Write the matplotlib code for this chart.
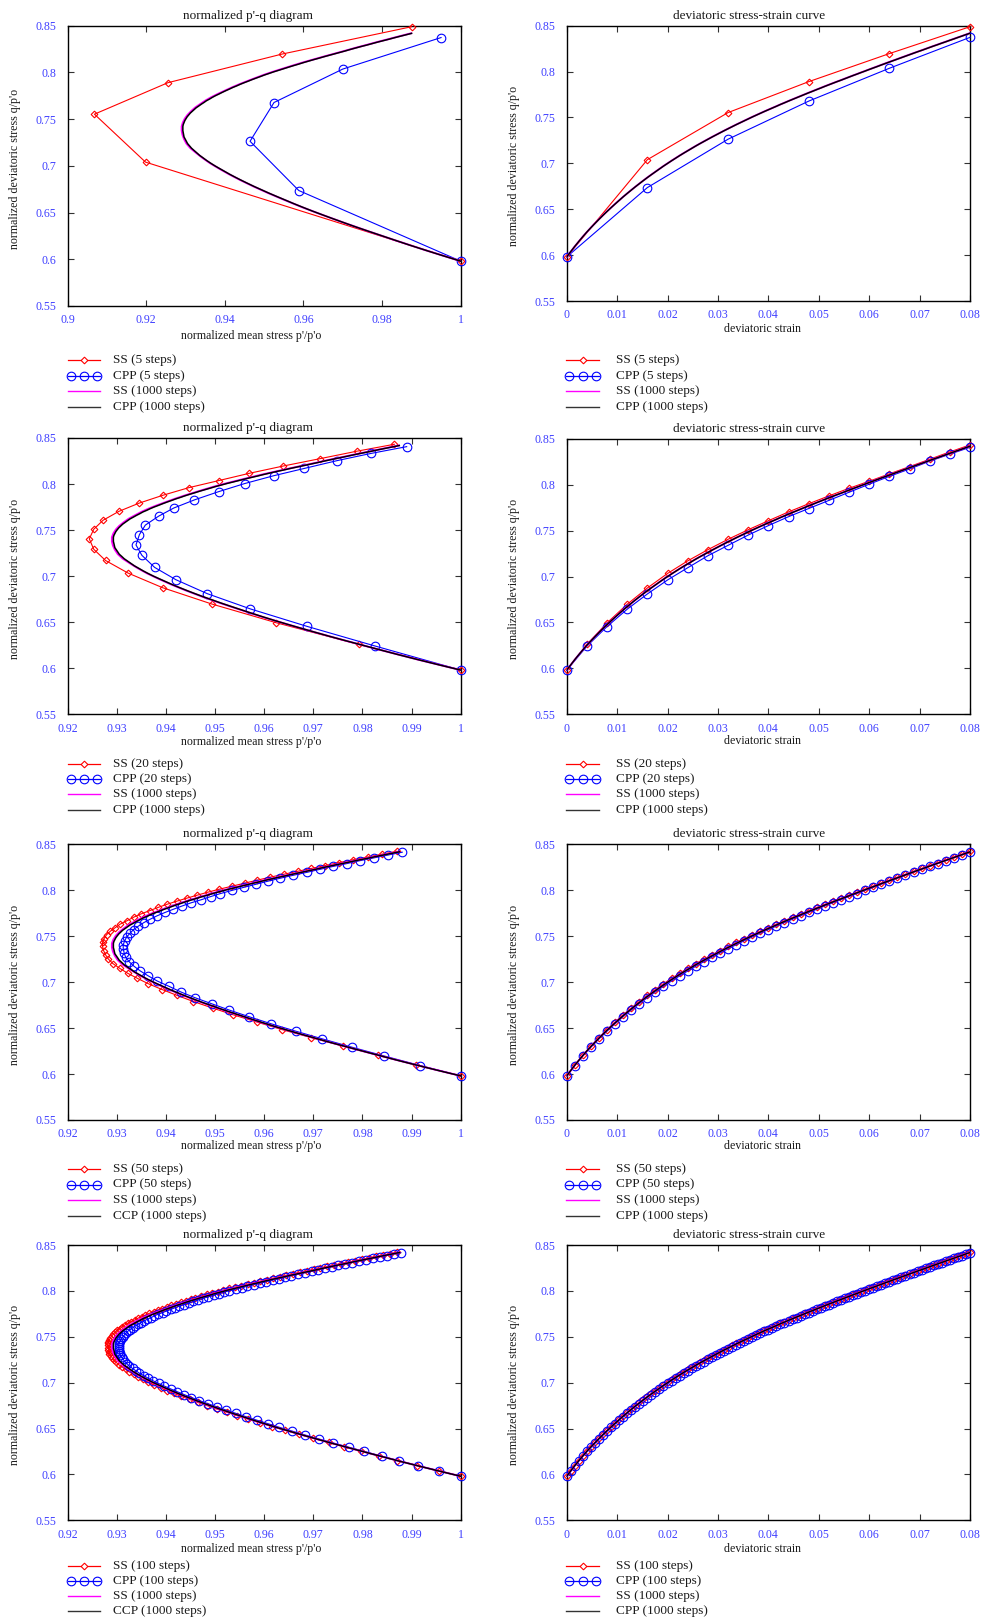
import matplotlib
matplotlib.use("Agg")
import matplotlib.pyplot as plt
from matplotlib.lines import Line2D

# ------------------------------------------------------------------ data
eps_5 = [0.000, 0.016, 0.032, 0.048, 0.064, 0.080]
q_ss_5 = [0.598, 0.7040, 0.7553, 0.7890, 0.8196, 0.8489]
p_ss_5 = [1.000, 0.9198, 0.9068, 0.9255, 0.9545, 0.9875]
q_cpp_5 = [0.598, 0.6736, 0.7263, 0.7678, 0.8036, 0.8373]
p_cpp_5 = [1.000, 0.9588, 0.9464, 0.9525, 0.9700, 0.9950]

eps_20 = [0.000, 0.004, 0.008, 0.012, 0.016, 0.020, 0.024, 0.028, 0.032, 0.036, 0.040,
          0.044, 0.048, 0.052, 0.056, 0.060, 0.064, 0.068, 0.072, 0.076, 0.080]
q_ss_20 = [0.598, 0.6260, 0.6495, 0.6698, 0.6875, 0.7033, 0.7170, 0.7292, 0.7405, 0.7509, 0.7607,
           0.7703, 0.7792, 0.7877, 0.7960, 0.8037, 0.8117, 0.8196, 0.8276, 0.8356, 0.8432]
p_ss_20 = [1.000, 0.9792, 0.9624, 0.9493, 0.9393, 0.9323, 0.9277, 0.9253, 0.9244, 0.9253, 0.9272,
           0.9304, 0.9345, 0.9393, 0.9446, 0.9507, 0.9570, 0.9639, 0.9714, 0.9788, 0.9865]
q_cpp_20 = [0.598, 0.6241, 0.6455, 0.6644, 0.6810, 0.6962, 0.7095, 0.7226, 0.7339, 0.7451, 0.7554,
            0.7651, 0.7740, 0.7828, 0.7917, 0.8005, 0.8090, 0.8170, 0.8255, 0.8332, 0.8406]
p_cpp_20 = [1.000, 0.9826, 0.9687, 0.9572, 0.9484, 0.9420, 0.9377, 0.9351, 0.9339, 0.9346, 0.9358,
            0.9385, 0.9416, 0.9458, 0.9507, 0.9560, 0.9619, 0.9682, 0.9749, 0.9817, 0.9890]

eps_50 = [0.0000, 0.0016, 0.0032, 0.0048, 0.0064, 0.0080, 0.0096, 0.0112, 0.0128, 0.0144,
          0.0160, 0.0176, 0.0192, 0.0208, 0.0224, 0.0240, 0.0256, 0.0272, 0.0288, 0.0304,
          0.0320, 0.0336, 0.0352, 0.0368, 0.0384, 0.0400, 0.0416, 0.0432, 0.0448, 0.0464,
          0.0480, 0.0496, 0.0512, 0.0528, 0.0544, 0.0560, 0.0576, 0.0592, 0.0608, 0.0624,
          0.0640, 0.0656, 0.0672, 0.0688, 0.0704, 0.0720, 0.0736, 0.0752, 0.0768, 0.0784,
          0.0800]
q_ss_50 = [0.5980, 0.6097, 0.6204, 0.6304, 0.6396, 0.6484, 0.6566, 0.6645, 0.6718, 0.6789,
           0.6857, 0.6920, 0.6983, 0.7041, 0.7097, 0.7150, 0.7202, 0.7250, 0.7298, 0.7344,
           0.7388, 0.7432, 0.7474, 0.7515, 0.7555, 0.7594, 0.7632, 0.7669, 0.7706, 0.7742,
           0.7778, 0.7813, 0.7847, 0.7881, 0.7913, 0.7947, 0.7980, 0.8012, 0.8045, 0.8078,
           0.8110, 0.8142, 0.8174, 0.8206, 0.8237, 0.8269, 0.8300, 0.8331, 0.8362, 0.8393,
           0.8424]
p_ss_50 = [1.0000, 0.9910, 0.9832, 0.9761, 0.9696, 0.9636, 0.9585, 0.9537, 0.9495, 0.9456,
           0.9422, 0.9392, 0.9364, 0.9342, 0.9322, 0.9306, 0.9292, 0.9283, 0.9277, 0.9273,
           0.9271, 0.9271, 0.9274, 0.9279, 0.9287, 0.9297, 0.9307, 0.9321, 0.9334, 0.9349,
           0.9367, 0.9384, 0.9402, 0.9422, 0.9442, 0.9464, 0.9486, 0.9509, 0.9535, 0.9561,
           0.9586, 0.9612, 0.9640, 0.9668, 0.9696, 0.9724, 0.9752, 0.9780, 0.9811, 0.9840,
           0.9870]
q_cpp_50 = [0.5980, 0.6093, 0.6197, 0.6293, 0.6383, 0.6467, 0.6547, 0.6624, 0.6696, 0.6765,
            0.6831, 0.6894, 0.6955, 0.7013, 0.7068, 0.7121, 0.7173, 0.7223, 0.7271, 0.7317,
            0.7363, 0.7407, 0.7450, 0.7492, 0.7533, 0.7572, 0.7610, 0.7648, 0.7685, 0.7722,
            0.7758, 0.7793, 0.7829, 0.7863, 0.7897, 0.7931, 0.7964, 0.7998, 0.8031, 0.8065,
            0.8098, 0.8130, 0.8163, 0.8195, 0.8227, 0.8259, 0.8290, 0.8321, 0.8352, 0.8383,
            0.8414]
p_cpp_50 = [1.0000, 0.9917, 0.9844, 0.9778, 0.9718, 0.9664, 0.9614, 0.9569, 0.9529, 0.9493,
            0.9459, 0.9430, 0.9406, 0.9382, 0.9364, 0.9348, 0.9335, 0.9325, 0.9318, 0.9315,
            0.9313, 0.9313, 0.9316, 0.9320, 0.9327, 0.9334, 0.9344, 0.9355, 0.9368, 0.9382,
            0.9398, 0.9415, 0.9433, 0.9451, 0.9472, 0.9491, 0.9511, 0.9534, 0.9558, 0.9583,
            0.9607, 0.9632, 0.9659, 0.9687, 0.9713, 0.9740, 0.9768, 0.9794, 0.9823, 0.9852,
            0.9881]

eps_100 = [0.0000, 0.0008, 0.0016, 0.0024, 0.0032, 0.0040, 0.0048, 0.0056, 0.0064, 0.0072,
           0.0080, 0.0088, 0.0096, 0.0104, 0.0112, 0.0120, 0.0128, 0.0136, 0.0144, 0.0152,
           0.0160, 0.0168, 0.0176, 0.0184, 0.0192, 0.0200, 0.0208, 0.0216, 0.0224, 0.0232,
           0.0240, 0.0248, 0.0256, 0.0264, 0.0272, 0.0280, 0.0288, 0.0296, 0.0304, 0.0312,
           0.0320, 0.0328, 0.0336, 0.0344, 0.0352, 0.0360, 0.0368, 0.0376, 0.0384, 0.0392,
           0.0400, 0.0408, 0.0416, 0.0424, 0.0432, 0.0440, 0.0448, 0.0456, 0.0464, 0.0472,
           0.0480, 0.0488, 0.0496, 0.0504, 0.0512, 0.0520, 0.0528, 0.0536, 0.0544, 0.0552,
           0.0560, 0.0568, 0.0576, 0.0584, 0.0592, 0.0600, 0.0608, 0.0616, 0.0624, 0.0632,
           0.0640, 0.0648, 0.0656, 0.0664, 0.0672, 0.0680, 0.0688, 0.0696, 0.0704, 0.0712,
           0.0720, 0.0728, 0.0736, 0.0744, 0.0752, 0.0760, 0.0768, 0.0776, 0.0784, 0.0792,
           0.0800]
q_ss_100 = [0.5980, 0.6038, 0.6096, 0.6150, 0.6203, 0.6254, 0.6301, 0.6348, 0.6393, 0.6438,
            0.6480, 0.6521, 0.6561, 0.6601, 0.6640, 0.6677, 0.6713, 0.6749, 0.6784, 0.6818,
            0.6851, 0.6883, 0.6914, 0.6946, 0.6977, 0.7006, 0.7035, 0.7063, 0.7091, 0.7118,
            0.7144, 0.7170, 0.7196, 0.7220, 0.7244, 0.7268, 0.7292, 0.7315, 0.7338, 0.7361,
            0.7383, 0.7405, 0.7427, 0.7447, 0.7468, 0.7489, 0.7510, 0.7530, 0.7550, 0.7570,
            0.7589, 0.7608, 0.7627, 0.7647, 0.7665, 0.7684, 0.7702, 0.7720, 0.7737, 0.7755,
            0.7773, 0.7790, 0.7808, 0.7825, 0.7843, 0.7860, 0.7877, 0.7894, 0.7910, 0.7927,
            0.7944, 0.7961, 0.7977, 0.7993, 0.8009, 0.8026, 0.8042, 0.8058, 0.8075, 0.8091,
            0.8107, 0.8123, 0.8139, 0.8155, 0.8171, 0.8187, 0.8203, 0.8219, 0.8234, 0.8250,
            0.8266, 0.8282, 0.8297, 0.8313, 0.8328, 0.8344, 0.8359, 0.8375, 0.8390, 0.8406,
            0.8421]
p_ss_100 = [1.0000, 0.9955, 0.9911, 0.9871, 0.9833, 0.9797, 0.9763, 0.9731, 0.9700, 0.9670,
            0.9643, 0.9616, 0.9592, 0.9568, 0.9545, 0.9524, 0.9503, 0.9484, 0.9465, 0.9448,
            0.9431, 0.9416, 0.9402, 0.9389, 0.9376, 0.9364, 0.9353, 0.9343, 0.9334, 0.9325,
            0.9318, 0.9311, 0.9304, 0.9299, 0.9294, 0.9291, 0.9288, 0.9285, 0.9284, 0.9283,
            0.9282, 0.9282, 0.9282, 0.9283, 0.9285, 0.9287, 0.9290, 0.9293, 0.9297, 0.9301,
            0.9306, 0.9311, 0.9316, 0.9323, 0.9329, 0.9337, 0.9343, 0.9351, 0.9358, 0.9366,
            0.9375, 0.9383, 0.9392, 0.9402, 0.9411, 0.9421, 0.9430, 0.9440, 0.9450, 0.9460,
            0.9471, 0.9483, 0.9493, 0.9505, 0.9516, 0.9529, 0.9541, 0.9553, 0.9567, 0.9580,
            0.9592, 0.9605, 0.9618, 0.9632, 0.9645, 0.9659, 0.9673, 0.9687, 0.9701, 0.9714,
            0.9728, 0.9742, 0.9756, 0.9771, 0.9784, 0.9799, 0.9813, 0.9827, 0.9842, 0.9857,
            0.9871]
q_cpp_100 = [0.5980, 0.6038, 0.6094, 0.6148, 0.6199, 0.6250, 0.6297, 0.6342, 0.6387, 0.6430,
             0.6472, 0.6513, 0.6552, 0.6591, 0.6629, 0.6666, 0.6702, 0.6738, 0.6771, 0.6805,
             0.6838, 0.6870, 0.6901, 0.6931, 0.6962, 0.6991, 0.7020, 0.7048, 0.7076, 0.7103,
             0.7129, 0.7155, 0.7181, 0.7206, 0.7230, 0.7254, 0.7278, 0.7301, 0.7325, 0.7348,
             0.7370, 0.7392, 0.7414, 0.7435, 0.7456, 0.7477, 0.7498, 0.7518, 0.7539, 0.7559,
             0.7578, 0.7597, 0.7616, 0.7636, 0.7654, 0.7673, 0.7691, 0.7709, 0.7727, 0.7745,
             0.7763, 0.7780, 0.7798, 0.7816, 0.7834, 0.7851, 0.7868, 0.7885, 0.7901, 0.7918,
             0.7935, 0.7952, 0.7968, 0.7986, 0.8002, 0.8019, 0.8035, 0.8051, 0.8069, 0.8085,
             0.8101, 0.8117, 0.8133, 0.8149, 0.8165, 0.8181, 0.8197, 0.8213, 0.8229, 0.8245,
             0.8261, 0.8277, 0.8292, 0.8308, 0.8323, 0.8339, 0.8354, 0.8370, 0.8385, 0.8401,
             0.8416]
p_cpp_100 = [1.0000, 0.9956, 0.9914, 0.9875, 0.9839, 0.9804, 0.9772, 0.9741, 0.9711, 0.9683,
             0.9657, 0.9631, 0.9608, 0.9585, 0.9563, 0.9542, 0.9522, 0.9503, 0.9485, 0.9468,
             0.9452, 0.9437, 0.9423, 0.9410, 0.9397, 0.9385, 0.9374, 0.9364, 0.9355, 0.9346,
             0.9339, 0.9332, 0.9325, 0.9321, 0.9316, 0.9313, 0.9310, 0.9307, 0.9306, 0.9305,
             0.9304, 0.9304, 0.9304, 0.9305, 0.9307, 0.9309, 0.9312, 0.9315, 0.9318, 0.9322,
             0.9327, 0.9332, 0.9337, 0.9343, 0.9349, 0.9356, 0.9362, 0.9370, 0.9376, 0.9384,
             0.9393, 0.9401, 0.9410, 0.9418, 0.9427, 0.9437, 0.9446, 0.9456, 0.9465, 0.9475,
             0.9486, 0.9497, 0.9507, 0.9518, 0.9529, 0.9542, 0.9554, 0.9566, 0.9579, 0.9592,
             0.9604, 0.9617, 0.9630, 0.9643, 0.9655, 0.9669, 0.9683, 0.9697, 0.9710, 0.9723,
             0.9737, 0.9751, 0.9765, 0.9779, 0.9792, 0.9807, 0.9821, 0.9835, 0.9849, 0.9864,
             0.9878]

# 1000-step solutions (sampled): CPP on the eps_100 grid, SS on the eps_50 grid
q_cpp_1000 = [0.5980, 0.6038, 0.6095, 0.6149, 0.6201, 0.6252, 0.6299, 0.6345, 0.6390, 0.6434,
              0.6476, 0.6517, 0.6557, 0.6596, 0.6635, 0.6672, 0.6708, 0.6744, 0.6778, 0.6812,
              0.6845, 0.6877, 0.6908, 0.6939, 0.6970, 0.6999, 0.7028, 0.7056, 0.7084, 0.7111,
              0.7137, 0.7163, 0.7189, 0.7214, 0.7238, 0.7262, 0.7286, 0.7309, 0.7332, 0.7355,
              0.7377, 0.7399, 0.7421, 0.7442, 0.7463, 0.7484, 0.7505, 0.7525, 0.7545, 0.7565,
              0.7584, 0.7603, 0.7622, 0.7642, 0.7660, 0.7679, 0.7697, 0.7715, 0.7733, 0.7751,
              0.7769, 0.7786, 0.7804, 0.7821, 0.7839, 0.7856, 0.7873, 0.7890, 0.7906, 0.7923,
              0.7940, 0.7957, 0.7973, 0.7990, 0.8006, 0.8023, 0.8039, 0.8055, 0.8072, 0.8088,
              0.8104, 0.8120, 0.8136, 0.8152, 0.8168, 0.8184, 0.8200, 0.8216, 0.8231, 0.8247,
              0.8263, 0.8279, 0.8294, 0.8310, 0.8325, 0.8341, 0.8356, 0.8372, 0.8387, 0.8403,
              0.8418]
p_cpp_1000 = [1.0000, 0.9955, 0.9912, 0.9872, 0.9835, 0.9799, 0.9766, 0.9734, 0.9704, 0.9675,
              0.9648, 0.9622, 0.9598, 0.9575, 0.9553, 0.9532, 0.9512, 0.9493, 0.9475, 0.9458,
              0.9442, 0.9427, 0.9413, 0.9400, 0.9387, 0.9375, 0.9364, 0.9354, 0.9345, 0.9336,
              0.9329, 0.9322, 0.9315, 0.9310, 0.9305, 0.9302, 0.9299, 0.9296, 0.9295, 0.9294,
              0.9293, 0.9293, 0.9293, 0.9294, 0.9296, 0.9298, 0.9301, 0.9304, 0.9308, 0.9312,
              0.9317, 0.9322, 0.9327, 0.9334, 0.9340, 0.9347, 0.9353, 0.9361, 0.9368, 0.9376,
              0.9385, 0.9393, 0.9402, 0.9411, 0.9420, 0.9430, 0.9439, 0.9449, 0.9459, 0.9469,
              0.9480, 0.9491, 0.9501, 0.9513, 0.9524, 0.9537, 0.9549, 0.9561, 0.9574, 0.9587,
              0.9599, 0.9612, 0.9625, 0.9639, 0.9652, 0.9666, 0.9680, 0.9694, 0.9707, 0.9720,
              0.9734, 0.9748, 0.9762, 0.9776, 0.9789, 0.9804, 0.9818, 0.9832, 0.9846, 0.9861,
              0.9875]
q_ss_1000 = [0.5980, 0.6095, 0.6202, 0.6300, 0.6391, 0.6477, 0.6558, 0.6636, 0.6709, 0.6779,
             0.6846, 0.6909, 0.6971, 0.7029, 0.7085, 0.7138, 0.7190, 0.7239, 0.7287, 0.7333,
             0.7378, 0.7422, 0.7464, 0.7506, 0.7546, 0.7585, 0.7623, 0.7661, 0.7698, 0.7734,
             0.7770, 0.7805, 0.7840, 0.7874, 0.7907, 0.7941, 0.7974, 0.8007, 0.8040, 0.8073,
             0.8105, 0.8137, 0.8169, 0.8201, 0.8232, 0.8264, 0.8295, 0.8326, 0.8357, 0.8388,
             0.8419]
p_ss_1000 = [1.0000, 0.9912, 0.9834, 0.9765, 0.9703, 0.9647, 0.9596, 0.9551, 0.9510, 0.9473,
             0.9440, 0.9411, 0.9385, 0.9362, 0.9343, 0.9327, 0.9312, 0.9302, 0.9296, 0.9292,
             0.9290, 0.9290, 0.9293, 0.9298, 0.9305, 0.9314, 0.9324, 0.9337, 0.9350, 0.9365,
             0.9382, 0.9400, 0.9418, 0.9437, 0.9457, 0.9478, 0.9499, 0.9522, 0.9547, 0.9572,
             0.9597, 0.9624, 0.9651, 0.9679, 0.9706, 0.9733, 0.9761, 0.9788, 0.9817, 0.9845,
             0.9874]

step_counts = [5, 20, 50, 100]
ref_labels_left = ["CPP (1000 steps)", "CPP (1000 steps)", "CCP (1000 steps)", "CCP (1000 steps)"]
ref_labels_right = ["CPP (1000 steps)", "CPP (1000 steps)", "CPP (1000 steps)", "CPP (1000 steps)"]
p_ticks_row1 = [0.90, 0.92, 0.94, 0.96, 0.98, 1.00]
p_ticks_rest = [0.92, 0.93, 0.94, 0.95, 0.96, 0.97, 0.98, 0.99, 1.00]
q_ticks = [0.55, 0.60, 0.65, 0.70, 0.75, 0.80, 0.85]
eps_ticks = [0.00, 0.01, 0.02, 0.03, 0.04, 0.05, 0.06, 0.07, 0.08]

# ------------------------------------------------------------------ style
W, H = 981, 1620
plt.rcParams['font.family'] = ['Liberation Serif', 'DejaVu Serif']
RED, BLUE, MAG, BLK = '#ff0000', '#0000ff', '#ff00ff', '#000000'
TICKC = '#4040ff'
TXT = '#1a1a1a'
FS_TICK, FS_LAB, FS_TITLE, FS_LEG = 8.6, 8.6, 9.5, 9.5

fig = plt.figure(figsize=(W / 100, H / 100), dpi=100)
fig.patch.set_facecolor('white')

# pixel geometry of each panel: (left, top, right, bottom)
geo_left = [(67.7, 25.7, 460.7, 306.0), (67.7, 438.0, 460.7, 714.3),
            (67.7, 844.3, 460.7, 1120.0), (67.7, 1245.0, 460.7, 1520.3)]
geo_right = [(566.7, 25.7, 970.0, 301.0), (566.7, 438.7, 970.0, 714.3),
             (566.7, 844.3, 970.0, 1120.0), (566.7, 1245.0, 970.0, 1520.3)]
xlab_y_left = [335.5, 741.5, 1146.5, 1549.0]
xlab_y_right = [328.5, 741.0, 1146.0, 1549.0]
leg_y = [360.0, 763.5, 1169.0, 1566.0]
leg_dy = [15.5, 15.5, 15.5, 15.0]


def make_axes(g):
    x0, y0, x1, y1 = g
    return fig.add_axes([x0 / W, 1 - y1 / H, (x1 - x0) / W, (y1 - y0) / H])


def style_axes(ax, g, title, title_x, xlabel, xlabel_x, xlabel_y, ylabel_x):
    x0, y0, x1, y1 = g
    w, h = x1 - x0, y1 - y0
    for s in ax.spines.values():
        s.set_linewidth(1.0)
        s.set_color('black')
    ax.tick_params(direction='in', length=4.6, width=0.8, color='#333333',
                   top=True, right=True, labelsize=FS_TICK, labelcolor=TICKC)
    ax.tick_params(axis='y', pad=8)
    ax.tick_params(axis='x', pad=6)
    ax.set_title(title, fontsize=FS_TITLE, color=TXT, x=(title_x - x0) / w,
                 y=1 + 10.0 / h, va='center', pad=0)
    ax.set_xlabel(xlabel, fontsize=FS_LAB, color=TXT)
    ax.xaxis.set_label_coords((xlabel_x - x0) / w, -(xlabel_y - y1) / h)
    ax.xaxis.label.set_va('center')
    ax.set_ylabel("normalized deviatoric stress q/p'o", fontsize=FS_LAB, color=TXT)
    ax.yaxis.set_label_coords((ylabel_x - x0) / w, 0.49)
    ax.yaxis.label.set_va('center')
    ax.set_yticks(q_ticks)
    ax.set_yticklabels(['%g' % t for t in q_ticks])
    ax.set_ylim(0.55, 0.85)


series = [
    (eps_5, q_ss_5, p_ss_5, q_cpp_5, p_cpp_5),
    (eps_20, q_ss_20, p_ss_20, q_cpp_20, p_cpp_20),
    (eps_50, q_ss_50, p_ss_50, q_cpp_50, p_cpp_50),
    (eps_100, q_ss_100, p_ss_100, q_cpp_100, p_cpp_100),
]

ss_kw = dict(color=RED, lw=0.8, marker='D', ms=3.4, mfc='none', mec=RED, mew=0.8,
             clip_on=False, zorder=3)
cpp_kw = dict(color=BLUE, lw=0.8, marker='o', ms=6.2, mfc='none', mec=BLUE, mew=0.8,
              clip_on=False, zorder=4)


def legend(xl0, xl1, xt, y0, dy, n, ref_label):
    labels = ["SS (%d steps)" % n, "CPP (%d steps)" % n, "SS (1000 steps)", ref_label]
    for k, lab in enumerate(labels):
        y = 1 - (y0 + k * dy) / H
        if k == 0:
            fig.add_artist(Line2D([xl0 / W, xl1 / W], [y, y], transform=fig.transFigure,
                                  color=RED, lw=0.9))
            fig.add_artist(Line2D([(xl0 + xl1) / 2 / W], [y], transform=fig.transFigure,
                                  color=RED, marker='D', ms=3.4, mfc='white', mew=0.8, lw=0))
        elif k == 1:
            fig.add_artist(Line2D([xl0 / W, xl1 / W], [y, y], transform=fig.transFigure,
                                  color=BLUE, lw=0.9))
            xs = [(xl0 + 3) / W, (xl0 + xl1) / 2 / W, (xl1 - 3) / W]
            fig.add_artist(Line2D(xs, [y] * 3, transform=fig.transFigure, color=BLUE,
                                  marker='o', ms=6.2, mfc='none', mew=0.8, lw=0))
        elif k == 2:
            fig.add_artist(Line2D([xl0 / W, xl1 / W], [y, y], transform=fig.transFigure,
                                  color=MAG, lw=1.0))
        else:
            fig.add_artist(Line2D([xl0 / W, xl1 / W], [y, y], transform=fig.transFigure,
                                  color='#333333', lw=1.0))
        fig.text(xt / W, y, lab, fontsize=FS_LEG, color=TXT, va='center', ha='left')


for r in range(4):
    eps, qs, ps, qc, pc = series[r]
    n = step_counts[r]

    # ---- p'-q diagram
    g = geo_left[r]
    ax = make_axes(g)
    ax.plot(ps, qs, **ss_kw)
    ax.plot(pc, qc, **cpp_kw)
    ax.plot(p_ss_1000, q_ss_1000, color=MAG, lw=1.4, zorder=5)
    ax.plot(p_cpp_1000, q_cpp_1000, color=BLK, lw=1.1, zorder=6)
    pt = p_ticks_row1 if r == 0 else p_ticks_rest
    ax.set_xlim(pt[0], 1.0)
    ax.set_xticks(pt)
    ax.set_xticklabels(['%g' % t for t in pt])
    style_axes(ax, g, "normalized p'-q diagram", 248, "normalized mean stress p'/p'o",
               251, xlab_y_left[r], 15)
    legend(67.7, 100.0, 113.0, leg_y[r], leg_dy[r], n, ref_labels_left[r])

    # ---- stress-strain curve
    g = geo_right[r]
    ax = make_axes(g)
    ax.plot(eps, qs, **ss_kw)
    ax.plot(eps, qc, **cpp_kw)
    ax.plot(eps_50, q_ss_1000, color=MAG, lw=1.4, zorder=5)
    ax.plot(eps_100, q_cpp_1000, color=BLK, lw=1.1, zorder=6)
    ax.set_xlim(0, 0.08)
    ax.set_xticks(eps_ticks)
    ax.set_xticklabels(['%g' % t for t in eps_ticks])
    style_axes(ax, g, "deviatoric stress-strain curve", 749, "deviatoric strain",
               762, xlab_y_right[r], 514)
    legend(566.0, 599.0, 616.0, leg_y[r], leg_dy[r], n, ref_labels_right[r])

fig.savefig("out.png", dpi=100, facecolor='white')
